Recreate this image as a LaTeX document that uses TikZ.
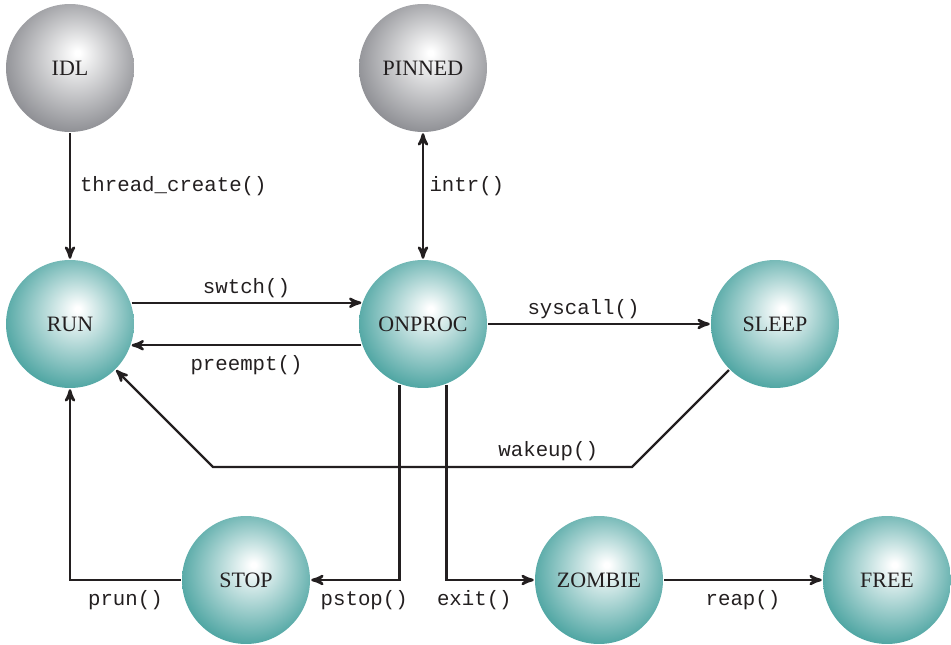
\documentclass[tikz,border=0pt]{standalone}
\usepackage{fontspec}
\setmainfont{Liberation Serif}
\setmonofont{Liberation Mono}
\usetikzlibrary{arrows}

\definecolor{tealc}{RGB}{72,162,159}
\definecolor{grayc}{RGB}{138,139,144}
\definecolor{inkc}{RGB}{35,31,32}
\pgfdeclareradialshading{tealball}{\pgfpoint{3bp}{6bp}}{color(0bp)=(white); color(1bp)=(white); color(29bp)=(tealc); color(50bp)=(tealc)}
\pgfdeclareradialshading{grayball}{\pgfpoint{3bp}{6bp}}{color(0bp)=(white); color(1bp)=(white); color(29bp)=(grayc); color(50bp)=(grayc)}

\tikzset{
  state/.style={circle, minimum size=2.56cm, inner sep=0pt, shade, shading=tealball,
    font=\fontsize{12.5}{14}\selectfont, text=inkc},
  idle/.style={state, shading=grayball},
  call/.style={font=\ttfamily\fontsize{11.8}{14}\selectfont, text=inkc, inner sep=5pt}
}

\begin{document}
\begin{tikzpicture}[->,>=stealth',line width=1.4pt,color=inkc,x=0.02cm,y=-0.02cm]
        \useasboundingbox (0,0) rectangle (951,645);
        \node[idle] (IDL) at (70,68) {IDL};
        \node[idle] (PINNED) at (423,68) {PINNED};
        \node[state] (RUN) at (70,324) {RUN};
        \node[state] (ONPROC) at (423,324) {ONPROC};
        \node[state] (SLEEP) at (775,324) {SLEEP};
        \node[state] (STOP) at (246,580) {STOP};
        \node[state] (ZOMBIE) at (599,580) {ZOMBIE};
        \node[state] (FREE) at (887,580) {FREE};
        \coordinate (wk1) at (632,467);
        \coordinate (wk2) at (213,467);
        \path (IDL) edge node[call, right, pos=0.42] {thread\_create()} (RUN);
        \path[<->] (PINNED) edge node[call, right, pos=0.42, inner sep=3pt] {intr()} (ONPROC);
        \path (RUN.19) edge node[call, above, inner sep=2pt] {swtch()} (ONPROC.161);
        \path (ONPROC.199) edge node[call, below] {preempt()} (RUN.-19);
        \path (ONPROC) edge node[call, above, pos=0.43, inner sep=2pt] {syscall()} (SLEEP);
        \path (ZOMBIE) edge node[call, below] {reap()} (FREE);
        \draw (SLEEP.225) -- (wk1) -- node[call, above, pos=0.2, inner sep=3pt] {wakeup()} (wk2) -- (RUN.-45);
        \draw (ONPROC.249) |- node[call, below, pos=0.7] {pstop()} (STOP);
        \draw (ONPROC.291) |- node[call, below, pos=0.66] {exit()} (ZOMBIE);
        \draw (STOP) -| node[call, below, pos=0.25] {prun()} (RUN);
    \end{tikzpicture}
\end{document}
